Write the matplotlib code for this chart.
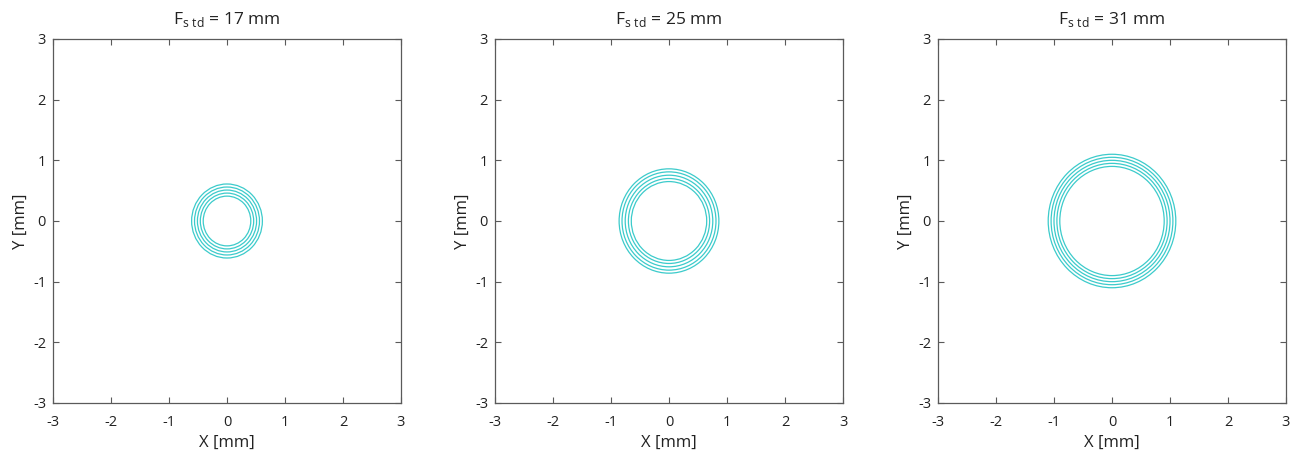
import matplotlib.pyplot as plt
from matplotlib.patches import Circle

plt.rcParams['font.family'] = ['Open Sans', 'DejaVu Sans']
plt.rcParams['axes.unicode_minus'] = False

f_std = [17, 25, 31]
radii = [
    [0.41, 0.46, 0.51, 0.56, 0.61],
    [0.65, 0.70, 0.755, 0.81, 0.86],
    [0.90, 0.95, 1.00, 1.05, 1.10],
]
ticks = [-3, -2, -1, 0, 1, 2, 3]

line_col = '#3ccbcb'
spine_col = '#5a5a5a'

fig = plt.figure(figsize=(12.97, 4.58), dpi=100)
W, H = 1297, 458
lefts = [53, 495, 938]

for i in range(3):
    ax = fig.add_axes([lefts[i] / W, (H - 403) / H, 348 / W, 364 / H])
    for r in radii[i]:
        ax.add_patch(Circle((0, 0), r, fill=False, ec=line_col, lw=0.9))
    ax.set_xlim(-3, 3)
    ax.set_ylim(-3, 3)
    ax.set_xticks(ticks)
    ax.set_yticks(ticks)
    ax.tick_params(direction='in', length=4, width=0.8, top=True, right=True,
                   labelsize=10.5, colors=spine_col, labelcolor='#222222', pad=5)
    ax.tick_params(axis='x', pad=9)
    for s in ax.spines.values():
        s.set_color(spine_col)
        s.set_linewidth(0.9)
    ax.set_xlabel('X [mm]', fontsize=12, color='#222222', labelpad=3)
    ax.set_ylabel('Y [mm]', fontsize=12, color='#222222', labelpad=3)
    ax.set_title(r'F$_{\mathregular{s\ td}}$ = %d mm' % f_std[i], fontsize=12.5,
                 color='#222222', pad=11)

fig.savefig('out.png', dpi=100, facecolor='white')
